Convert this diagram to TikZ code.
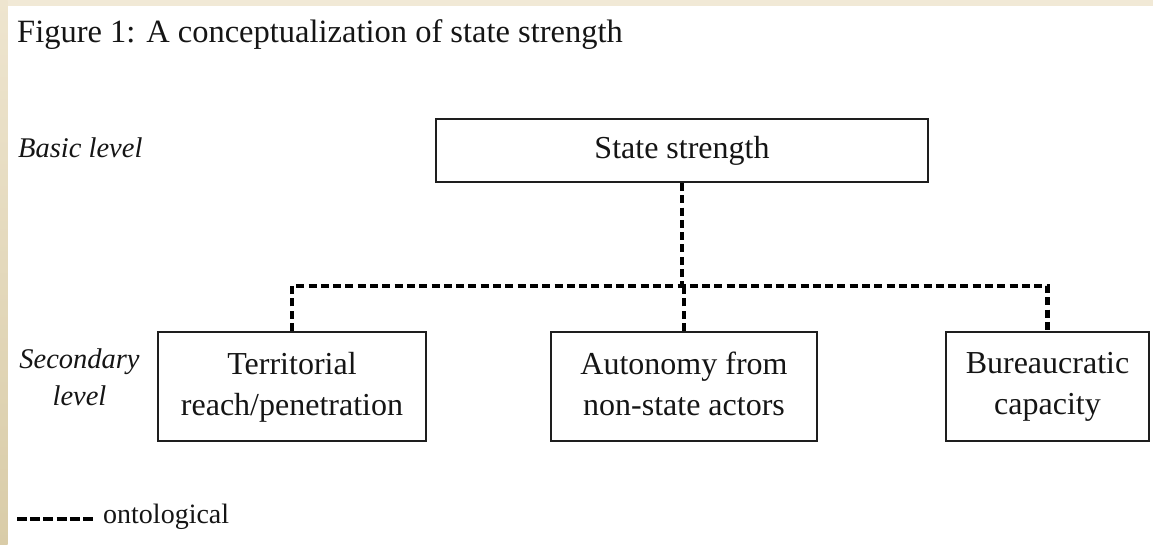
\documentclass[tikz,border=0pt]{standalone}
\usepackage{fontspec}
\setmainfont{Liberation Serif}
\definecolor{beigetop}{HTML}{F1E9D6}
\definecolor{beigeleft1}{HTML}{EEE5CF}
\definecolor{beigeleft2}{HTML}{D9CCA8}
\definecolor{inkc}{HTML}{151515}
\definecolor{boxc}{HTML}{1E1E1E}
\newcommand\mybodyfont{\fontsize{32}{41}\selectfont}
\newcommand\mytitlefont{\fontsize{32.5}{40}\selectfont}
\newcommand\mylevelfont{\fontsize{28.5}{37}\selectfont\itshape}
\newcommand\mylegfont{\fontsize{28}{34}\selectfont}
\begin{document}
\begin{tikzpicture}[x=1pt,y=-1pt,
  box/.style={draw=boxc, line width=2pt, inner sep=0pt, align=center, font=\mybodyfont, text=inkc},
  plain/.style={font=\mybodyfont, text=inkc, inner sep=0pt},
  onto/.style={draw=black, line width=4.2pt, dash pattern=on 8pt off 4.3pt},
  ontolegend/.style={draw=black, line width=4.2pt, dash pattern=on 10pt off 3.2pt}]
\useasboundingbox (0,0) rectangle (1153,545);
\fill[white] (0,0) rectangle (1153,545);
\fill[beigetop] (0,0) rectangle (1153,6.5);
\shade[top color=beigeleft1, bottom color=beigeleft2] (0,0) rectangle (7.5,545);

% title and level labels
\node[plain, font=\mytitlefont, anchor=base west] (title) at (17,43) {Figure 1: A conceptualization of state strength};
\node[plain, font=\mylevelfont, anchor=base west] (basic) at (18,158) {Basic level};
\node[plain, font=\mylevelfont, align=center] (sec) at (79.5,380) {\strut Secondary\\\strut level};

% boxes
\node[box, minimum width=492pt, minimum height=63pt] (top) at (682,150.5) {\strut State strength};
\node[box, minimum width=268pt, minimum height=109pt] (terr) at (292,386.5) {\strut Territorial\\\strut reach/penetration};
\node[box, minimum width=266pt, minimum height=109pt] (auto) at (684,386.5) {\strut Autonomy from\\\strut non-state actors};
\node[box, minimum width=203pt, minimum height=109pt] (bur) at (1047.5,386) {\strut Bureaucratic\\\strut capacity};

% connectors
\coordinate (bus) at (682,286);
\draw[onto] (top.south) -- (bus);
\draw[onto] (terr.north) |- (bus) -| (bur.north);
\draw[onto] (auto.north) -- (auto.north |- bus);

% legend
\coordinate (leg1) at (17,519);
\coordinate (leg2) at (93,519);
\draw[ontolegend] (leg1) -- (leg2);
\node[plain, font=\mylegfont, anchor=base west] (ont) at (103,523) {ontological};
\end{tikzpicture}
\end{document}
